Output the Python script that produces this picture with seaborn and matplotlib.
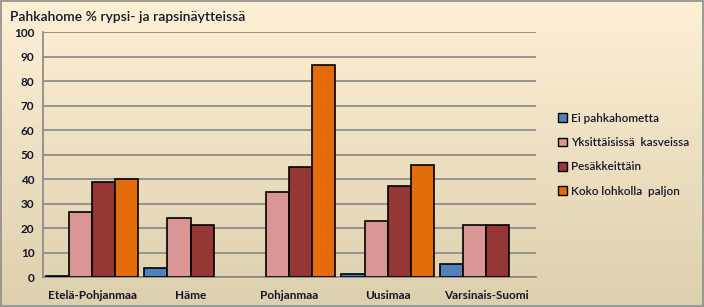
import numpy as np
import pandas as pd
import matplotlib
matplotlib.use("Agg")
import matplotlib.pyplot as plt
import seaborn as sns
from matplotlib.patches import Rectangle, Patch

categories = ["Etelä-Pohjanmaa", "Häme", "Pohjanmaa", "Uusimaa", "Varsinais-Suomi"]
series = ["Ei pahkahometta", "Yksittäisissä  kasveissa", "Pesäkkeittäin", "Koko lohkolla  paljon"]
ei = [0.3, 3.5, np.nan, 1.2, 5.2]
yks = [26.4, 23.9, 34.9, 22.9, 21.2]
pes = [38.7, 21.1, 44.8, 37.1, 21.2]
koko = [40.2, np.nan, 86.7, 45.7, np.nan]
colors = ["#4f81bd", "#d99694", "#953735", "#e46c0a"]
yticks = list(range(0, 101, 10))

rows = []
for s, vals in zip(series, [ei, yks, pes, koko]):
    for c, v in zip(categories, vals):
        rows.append({"cat": c, "series": s, "value": v})
df = pd.DataFrame(rows)

sns.set_style("white")
plt.rcParams['font.family'] = ['Lato', 'DejaVu Sans']
txtc = "#15152a"

fig = plt.figure(figsize=(7.04, 3.07), dpi=100)
# gradient background
bg = fig.add_axes([0, 0, 1, 1], zorder=-10)
grad = np.linspace(0, 1, 256)[:, None]
top = np.array([253, 240, 213]) / 255
bot = np.array([221, 208, 174]) / 255
img = top[None, None, :] * (1 - grad[:, :, None]) + bot[None, None, :] * grad[:, :, None]
bg.imshow(img, aspect="auto", extent=[0, 1, 0, 1])
bg.set_axis_off()
bg.add_patch(Rectangle((0.001, 0.002), 0.997, 0.995, fill=False, edgecolor="#8c8c8c", lw=1.2, transform=bg.transAxes))

ax = fig.add_axes([0.0607, 0.0977, 0.7, 0.798])
ax.set_facecolor("none")
sns.barplot(data=df, x="cat", y="value", hue="series", order=categories, hue_order=series,
            palette=colors, width=0.94, gap=0, edgecolor="black", linewidth=1.2,
            saturation=1, ax=ax, legend=False, zorder=3)
ax.set_ylim(0, 100)
ax.set_xlim(-0.5, 4.5)
ax.set_yticks(yticks)
ax.yaxis.grid(True, color="#878787", lw=1.2, zorder=0)
ax.set_axisbelow(True)
for side in ["top", "right"]:
    ax.spines[side].set_visible(False)
for side in ["left", "bottom"]:
    ax.spines[side].set_color("#878787")
    ax.spines[side].set_linewidth(1.2)
ax.set_xlabel("")
ax.set_ylabel("")
ax.tick_params(axis="y", length=4, color="#878787", width=1.2, labelsize=8.5, labelcolor=txtc, pad=2)
ax.tick_params(axis="x", length=0, labelsize=8.5, labelcolor=txtc, pad=9)
ax.set_xticks(np.arange(-0.5, 5.0, 1.0), minor=True)
ax.tick_params(axis="x", which="minor", length=5, color="#878787", width=1.2)
for lab in ax.get_xticklabels() + ax.get_yticklabels():
    lab.set_fontweight("bold")

fig.text(0.014, 0.945, "Pahkahome % rypsi- ja rapsinäytteissä", fontsize=10, color=txtc,
         fontweight="semibold", va="center", ha="left")

handles = [Patch(facecolor=c, edgecolor="black", lw=1) for c in colors]
leg = fig.legend(handles, series, loc="upper left", bbox_to_anchor=(0.778, 0.667), frameon=False,
                 fontsize=8.5, handlelength=0.75, handleheight=0.75, handletextpad=0.3,
                 labelspacing=1.12, labelcolor=txtc)
for t in leg.get_texts():
    t.set_fontweight("semibold")

fig.savefig("out.png", dpi=100)
